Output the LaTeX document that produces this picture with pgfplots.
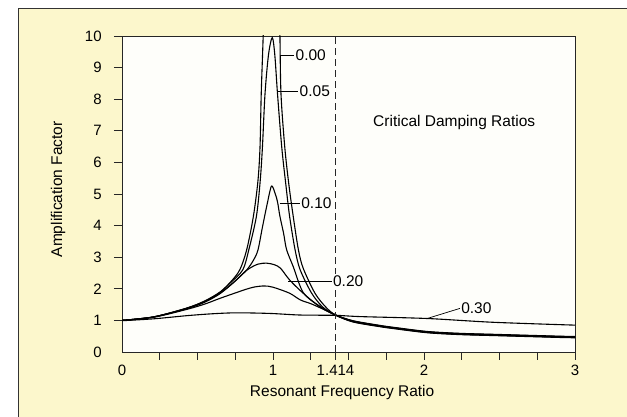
\documentclass[border=0pt]{standalone}
\usepackage{pgfplots}
\pgfplotsset{compat=1.18}
\usepackage{fontspec}
\setmainfont{Liberation Sans}
\definecolor{cream}{RGB}{252,247,204}
\definecolor{paper}{RGB}{254,254,250}
\begin{document}
\fontsize{15.5}{18}\selectfont
\begin{tikzpicture}
\useasboundingbox (0pt,0pt) rectangle (627pt,417pt);
\fill[cream] (18pt,0pt) rectangle (627pt,409pt);
\draw[black!80, line width=0.8pt] (18pt,0pt) -- (18pt,409pt) -- (627pt,409pt);
\begin{axis}[
    at={(122pt,65pt)}, anchor=south west,
    scale only axis, width=453pt, height=316pt,
    xmin=0, xmax=3, ymin=0, ymax=10,
    axis background/.style={fill=paper},
    axis line style={black!85, line width=0.8pt},
    tick style={black!85, line width=0.8pt},
    tick align=outside, tick pos=left, major tick length=8pt,
    /pgf/number format/assume math mode=true,
    tick label style={font=\fontsize{15}{18}\selectfont},
    xtick={0.25,0.5,0.75,1,1.25,1.414,1.5,1.75,2,2.25,2.5,2.75,3},
    xticklabels={,,,1,,1.414,,,2,,,,3},
    extra x ticks={0}, extra x tick labels={0},
    extra x tick style={major tick style={draw=none}},
    ytick={1,2,3,4,5,6,7,8,9,10},
    extra y ticks={0},
    extra y tick style={major tick style={draw=none}},
    yticklabel style={xshift=-7pt},
    every axis x label/.style={at={(axis description cs:0.486,-0.127)}, anchor=center},
    every axis y label/.style={at={(axis description cs:-0.141,0.515)}, rotate=90, anchor=center},
    xlabel={Resonant Frequency Ratio},
    ylabel={Amplification Factor},
    clip=true,
    cycle list={{black, solid, mark=none}},
    every axis plot/.append style={line width=1.1pt, smooth},
]
% 0.00 (two branches round the unbounded peak)
\addplot coordinates {(0,1.00) (0.21,1.11) (0.43,1.39) (0.55,1.62) (0.65,1.90) (0.72,2.22) (0.78,2.60) (0.826,3.24) (0.87,4.29) (0.90,5.40) (0.914,6.48) (0.922,8.16) (0.935,10) (0.947,12)};
\addplot coordinates {(1.04,12) (1.046,10) (1.053,8.16) (1.078,6.48) (1.105,5.30) (1.134,4.29) (1.168,3.24) (1.20,2.65) (1.278,1.86) (1.35,1.42) (1.414,1.17) (1.53,0.95) (1.71,0.80) (1.80,0.74) (2.02,0.61) (2.24,0.55) (2.46,0.52) (2.68,0.49) (2.90,0.46) (3.0,0.45)};
% 0.05
\addplot coordinates {(0,1.00) (0.21,1.11) (0.43,1.39) (0.55,1.61) (0.65,1.89) (0.72,2.20) (0.80,2.60) (0.84,3.24) (0.89,4.29) (0.915,5.40) (0.93,6.48) (0.947,8.16) (0.97,9.40) (0.995,9.95) (1.012,9.40) (1.03,8.16) (1.058,6.48) (1.085,5.30) (1.11,4.29) (1.146,3.24) (1.18,2.60) (1.256,1.86) (1.33,1.42) (1.414,1.17) (1.53,0.96) (1.71,0.81) (1.80,0.75) (2.02,0.62) (2.24,0.56) (2.46,0.53) (2.68,0.50) (2.90,0.47) (3.0,0.46)};
% 0.10
\addplot coordinates {(0,1.00) (0.21,1.11) (0.43,1.38) (0.55,1.60) (0.65,1.86) (0.72,2.12) (0.78,2.38) (0.83,2.62) (0.87,2.90) (0.90,3.22) (0.93,3.95) (0.96,4.65) (0.99,5.25) (1.015,5.00) (1.03,4.75) (1.046,4.29) (1.07,3.76) (1.09,3.24) (1.134,2.70) (1.20,1.88) (1.30,1.48) (1.414,1.17) (1.53,0.97) (1.71,0.82) (1.80,0.76) (2.02,0.63) (2.24,0.57) (2.46,0.54) (2.68,0.51) (2.90,0.48) (3.0,0.47)};
% 0.20
\addplot coordinates {(0,1.00) (0.21,1.11) (0.43,1.37) (0.55,1.58) (0.65,1.85) (0.75,2.25) (0.83,2.60) (0.90,2.78) (0.96,2.81) (1.01,2.76) (1.05,2.65) (1.11,2.28) (1.20,1.86) (1.31,1.43) (1.414,1.17) (1.53,0.98) (1.71,0.83) (1.80,0.77) (2.02,0.64) (2.24,0.58) (2.46,0.55) (2.68,0.52) (2.90,0.49) (3.0,0.48)};
\addplot coordinates {(0,1.00) (0.21,1.10) (0.43,1.35) (0.55,1.52) (0.65,1.70) (0.80,1.95) (0.87,2.05) (0.94,2.09) (1.00,2.05) (1.11,1.86) (1.18,1.65) (1.25,1.53) (1.33,1.36) (1.414,1.17) (1.53,0.99) (1.71,0.84) (1.80,0.78) (2.02,0.65) (2.24,0.59) (2.46,0.56) (2.68,0.53) (2.90,0.50) (3.0,0.49)};
% 0.30
\addplot coordinates {(0,0.99) (0.21,1.05) (0.43,1.15) (0.60,1.21) (0.76,1.24) (0.98,1.22) (1.18,1.17) (1.414,1.16) (1.58,1.12) (2.02,1.06) (2.46,0.94) (3.0,0.85)};
% critical frequency ratio
\draw[black!85, line width=0.7pt, dash pattern=on 7pt off 4pt] (axis cs:1.414,0) -- (axis cs:1.414,10);
% labels
\draw[line width=0.7pt] (axis cs:1.046,9.40) -- (axis cs:1.141,9.40) node[anchor=west, inner sep=1pt] {0.00};
\draw[line width=0.7pt] (axis cs:1.029,8.24) -- (axis cs:1.168,8.24) node[anchor=west, inner sep=1pt] {0.05};
\draw[line width=0.7pt] (axis cs:1.046,4.71) -- (axis cs:1.179,4.71) node[anchor=west, inner sep=1pt] {0.10};
\draw[line width=0.7pt] (axis cs:1.101,2.25) -- (axis cs:1.389,2.25) node[anchor=west, inner sep=1pt, fill=paper] {0.20};
\draw[line width=0.7pt] (axis cs:2.028,1.07) -- (axis cs:2.238,1.38) node[anchor=west, inner sep=1pt] {0.30};
\node at (axis cs:2.20,7.26) {Critical Damping Ratios};
\end{axis}
\end{tikzpicture}
\end{document}
